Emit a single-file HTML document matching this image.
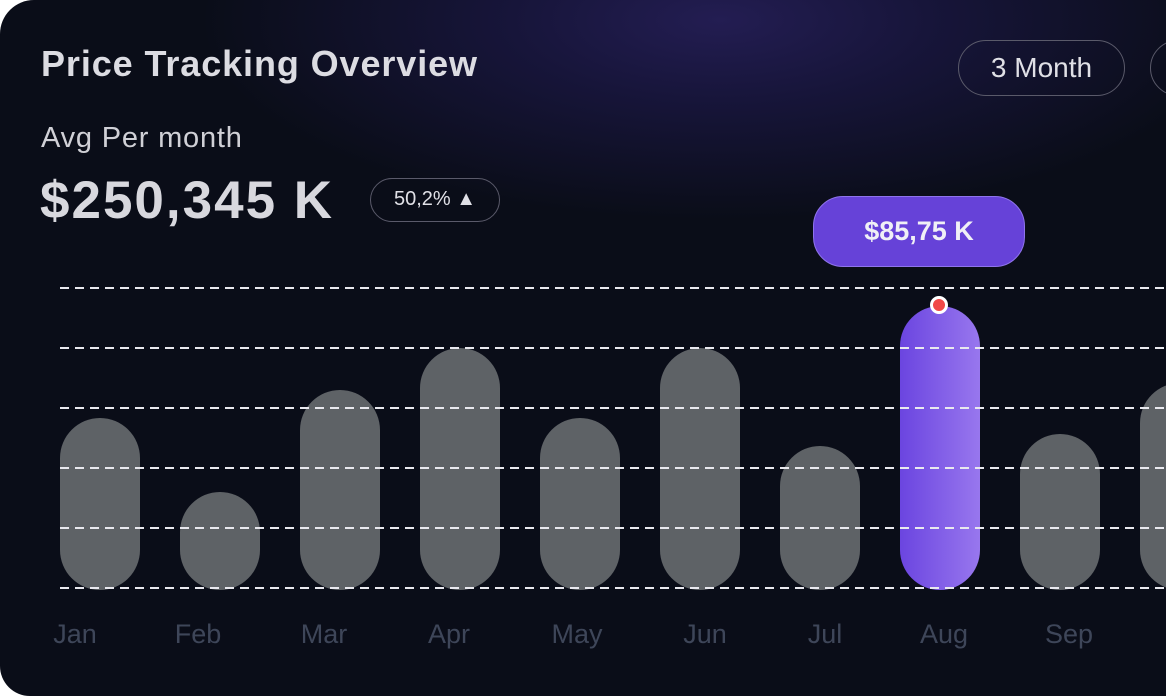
<!DOCTYPE html>
<html><head><meta charset="utf-8"><style>
html,body{margin:0;padding:0;width:1166px;height:696px;overflow:hidden;background:#fff;}
.card{position:absolute;left:0;top:0;width:1190px;height:696px;border-radius:34px 0 0 30px;overflow:hidden;
background:radial-gradient(ellipse 520px 200px at 720px 20px,#231d52 0%,#17153a 40%,rgba(10,13,24,0) 100%),#0a0d18;font-family:"Liberation Sans",sans-serif;}
.t{position:absolute;color:#d8d8de;white-space:nowrap;}
.pill{position:absolute;border:1.5px solid #5a5a6a;border-radius:30px;box-sizing:border-box;color:#e0e0e6;text-align:center;}
.bar{position:absolute;width:80px;border-radius:40px;background:#5e6266;bottom:106px;}
.lab{position:absolute;top:619px;width:80px;text-align:center;color:#3e4659;font-size:27px;}
</style></head><body>
<div class="card">
<div class="t" style="left:41px;top:43px;font-size:36px;font-weight:bold;color:#dcdce2;letter-spacing:0.9px">Price Tracking Overview</div>
<div class="t" style="left:41px;top:122px;font-size:29px;color:#d0d0d6;letter-spacing:0.8px">Avg Per month</div>
<div class="t" style="left:40px;top:170px;font-size:53px;font-weight:bold;color:#d8d8de;letter-spacing:2px">$250,345 K</div>
<div class="pill" style="left:370px;top:178px;width:130px;height:44px;line-height:41px;font-size:20px">50,2% &#9650;</div>
<div class="pill" style="left:958px;top:40px;width:167px;height:56px;line-height:53px;font-size:28px">3 Month</div>
<div class="pill" style="left:1150px;top:40px;width:80px;height:56px"></div>
<div class="pill" style="left:813px;top:196px;width:212px;height:71px;line-height:69px;font-size:27px;font-weight:bold;background:#6642d8;border-color:#8f74ec;color:#f0f0f6">$85,75 K</div>
<div class="bar" style="left:60px;top:418px"></div>
<div class="bar" style="left:180px;top:492px"></div>
<div class="bar" style="left:300px;top:390px"></div>
<div class="bar" style="left:420px;top:348px"></div>
<div class="bar" style="left:540px;top:418px"></div>
<div class="bar" style="left:660px;top:348px"></div>
<div class="bar" style="left:780px;top:446px"></div>
<div class="bar" style="left:900px;top:306px;background:linear-gradient(90deg,#6b45e0,#9877ee)"></div>
<div class="bar" style="left:1020px;top:434px"></div>
<div class="bar" style="left:1140px;top:383px"></div>
<svg style="position:absolute;left:0;top:0" width="1166" height="696">
<g stroke="#e8e8ee" stroke-width="2" stroke-dasharray="9 6">
<line x1="60" x2="1166" y1="288" y2="288"/><line x1="60" x2="1166" y1="348" y2="348"/>
<line x1="60" x2="1166" y1="408" y2="408"/><line x1="60" x2="1166" y1="468" y2="468"/>
<line x1="60" x2="1166" y1="528" y2="528"/><line x1="60" x2="1166" y1="588" y2="588"/>
</g></svg>
<div style="position:absolute;left:930px;top:296px;width:12px;height:12px;border-radius:50%;background:#f04848;border:3px solid #fff"></div>
<div class="lab" style="left:35px">Jan</div><div class="lab" style="left:158px">Feb</div>
<div class="lab" style="left:284px">Mar</div><div class="lab" style="left:409px">Apr</div>
<div class="lab" style="left:537px">May</div><div class="lab" style="left:665px">Jun</div>
<div class="lab" style="left:785px">Jul</div><div class="lab" style="left:904px">Aug</div>
<div class="lab" style="left:1029px">Sep</div>
</div>
</body></html>
